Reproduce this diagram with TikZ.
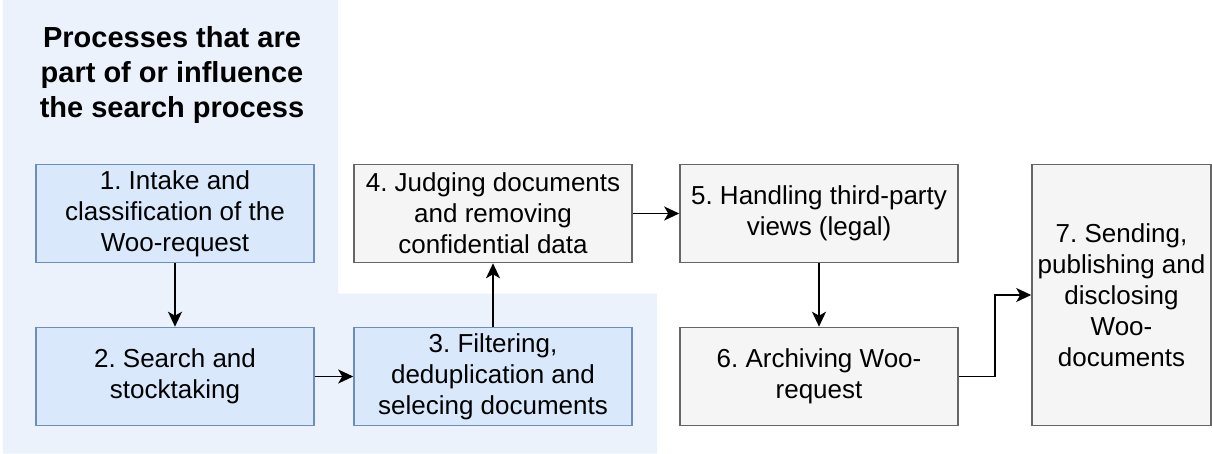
\documentclass[tikz,border=0pt]{standalone}
\usepackage{fontspec}
\setmainfont{Liberation Sans}
\usetikzlibrary{arrows.meta,calc}
\frenchspacing

\definecolor{bluefill}{HTML}{DAE8FC}
\definecolor{blueline}{HTML}{6C8EBF}
\definecolor{grayfill}{HTML}{F5F5F5}
\definecolor{grayline}{HTML}{666666}
\definecolor{panelfill}{HTML}{EBF2FC}

\tikzset{
  procbox/.style={draw, line width=1.6pt, align=center, inner sep=0pt,
    minimum width=278pt, minimum height=98pt,
    font=\fontsize{26}{31}\selectfont},
  searchbox/.style={procbox, fill=bluefill, draw=blueline},
  otherbox/.style={procbox, fill=grayfill, draw=grayline},
  flow/.style={line width=1.6pt, black,
    -{Stealth[length=15pt, width=14pt, inset=4pt]}}
}

\begin{document}
\begin{tikzpicture}[x=1pt, y=-1pt]
  \useasboundingbox (0,0) rectangle (1212,454);

  % area of the processes that belong to the search
  \fill[panelfill] (3,0) -- (338,0) -- (338,293.5) -- (657,293.5)
    -- (657,453.5) -- (3,453.5) -- cycle;

  \node[align=center, font=\bfseries\fontsize{29}{35}\selectfont] (title)
    at (172,75) {Processes that are\\part of or influence\\the search process};

  % process steps
  \node[searchbox] (b1) at (175,213.5) {1. Intake and\\classification of the\\Woo-request};
  \node[searchbox] (b2) at (175,376.5) {2. Search and\\stocktaking};
  \node[searchbox] (b3) at (493,376.5) {3. Filtering,\\deduplication and\\selecing documents};
  \node[otherbox]  (b4) at (493,213.5) {4. Judging documents\\and removing\\confidential data};
  \node[otherbox]  (b5) at (819,213.5) {5. Handling third-party\\views (legal)};
  \node[otherbox]  (b6) at (819,376.5) {6. Archiving Woo-\\request};
  \node[otherbox, minimum width=179pt, minimum height=261pt] (b7) at (1121.5,295)
    {7. Sending,\\publishing and\\disclosing\\Woo-\\documents};

  % connectors
  \draw[flow] (b1) -- (b2);
  \draw[flow] (b2) -- (b3);
  \draw[flow] (b3) -- (b4);
  \draw[flow] (b4) -- (b5);
  \draw[flow] (b5) -- (b6);
  \coordinate (mid67) at ($(b6.east)!0.5!(b7.west)$);
  \draw[flow] (b6.east) -- (b6.east -| mid67) -- (mid67 |- b7.west) -- (b7.west);
\end{tikzpicture}
\end{document}
